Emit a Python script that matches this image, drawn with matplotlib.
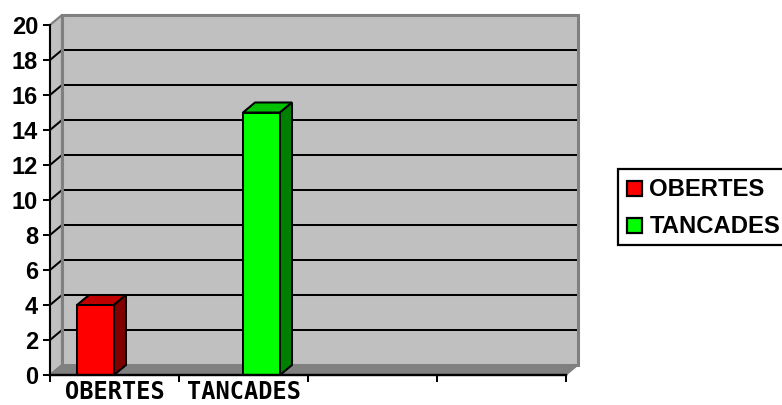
import matplotlib
matplotlib.use("Agg")
import matplotlib.pyplot as plt
from matplotlib.patches import Polygon, Rectangle

plt.rcParams['font.family'] = ['Liberation Sans', 'DejaVu Sans']

categories = ["OBERTES", "TANCADES", "", ""]
series_names = ["OBERTES", "TANCADES"]
series_values = [4, 15]
series_slots = [0, 1]          # category index of each series' bar
y_ticks = list(range(0, 21, 2))

W, H = 782, 405
fig = plt.figure(figsize=(W/100, H/100), dpi=100)
L, R, B, T = 50, 566, 375, 25
ax = fig.add_axes([L/W, 1-B/H, (R-L)/W, (B-T)/H])
ax.set_xlim(0, 4)
ax.set_ylim(0, 20)
ax.patch.set_visible(False)
for s in ax.spines.values():
    s.set_visible(False)

DX = 12/129       # depth in category units
DY = 10/17.5      # depth in value units
WALL, EDGE, FLOOR = '#C0C0C0', '#808080', '#808080'
K = '#000000'
LW = 1.45

def poly(pts, fc, ec=K, lw=LW, z=1):
    ax.add_patch(Polygon(pts, closed=True, fc=fc, ec=ec, lw=lw, zorder=z,
                         clip_on=False, joinstyle='miter'))

# walls and floor
poly([(DX, DY), (4+DX, DY), (4+DX, 20+DY), (DX, 20+DY)], WALL, 'none', 0, 1)
poly([(0, 0), (DX, DY), (DX, 20+DY), (0, 20)], WALL, 'none', 0, 1)
poly([(0, 0), (4, 0), (4+DX, DY), (DX, DY)], FLOOR, EDGE, 1.0, 2)

# gridlines on side and back wall
for v in y_ticks[1:-1]:
    ax.plot([0, DX, 4+DX], [v, v+DY, v+DY], color=K, lw=LW, zorder=3,
            clip_on=False, solid_joinstyle='miter')

# wall outlines above the gridlines
poly([(DX, DY), (4+DX, DY), (4+DX, 20+DY), (DX, 20+DY)], 'none', EDGE, 2.2, 4)
poly([(0, 0), (DX, DY), (DX, 20+DY), (0, 20)], 'none', EDGE, 1.6, 4)

# 3-D bars
width = 37/129
front = ['#FF0000', '#00FF00']
top = ['#C00000', '#00C000']
side = ['#800000', '#008000']
for i, (slot, val) in enumerate(zip(series_slots, series_values)):
    x0 = slot + 27/129 + i*(width)
    x1 = x0 + width
    poly([(x0, val), (x1, val), (x1+DX, val+DY), (x0+DX, val+DY)], top[i], z=5)
    poly([(x1, 0), (x1+DX, DY), (x1+DX, val+DY), (x1, val)], side[i], z=5)
    poly([(x0, 0), (x1, 0), (x1, val), (x0, val)], front[i], z=6)

# front axes
ax.plot([0, 0], [0, 20], color=K, lw=LW, zorder=7, clip_on=False)
ax.plot([0, 4], [0, 0], color=K, lw=LW*1.2, zorder=7, clip_on=False)
ax.set_yticks(y_ticks)
ax.set_yticklabels([str(v) for v in y_ticks], fontsize=17, fontweight='bold')
ax.tick_params(axis='y', length=5, width=LW, color=K, pad=3.5)
ax.set_xticks(range(5))
ax.set_xticklabels([])
ax.tick_params(axis='x', length=5, width=LW, color=K)
for i, c in enumerate(categories):
    if c:
        ax.text(i+0.5, -1.38, c, ha='center', va='baseline', fontsize=17,
                fontweight='bold', family=['DejaVu Sans Mono'],
                color=K, clip_on=False)

# legend in pixel coordinates
px = fig.transFigure
def P(x, y):
    return (x/W, 1-y/H)
fig.add_artist(Rectangle(P(618, 245), 170/W, 76/H, transform=px, fc='white', ec=K, lw=1.6))
for name, col, yc in zip(series_names, front, [188.5, 226]):
    fig.add_artist(Rectangle(P(627, yc+7.5), 15/W, 15/H, transform=px, fc=col, ec=K, lw=1.6))
    fig.text(649.5/W, 1-(yc+0.5)/H, name, fontsize=17.2, fontweight='bold',
             va='center', ha='left', color=K)

fig.savefig("out.png", dpi=100)
